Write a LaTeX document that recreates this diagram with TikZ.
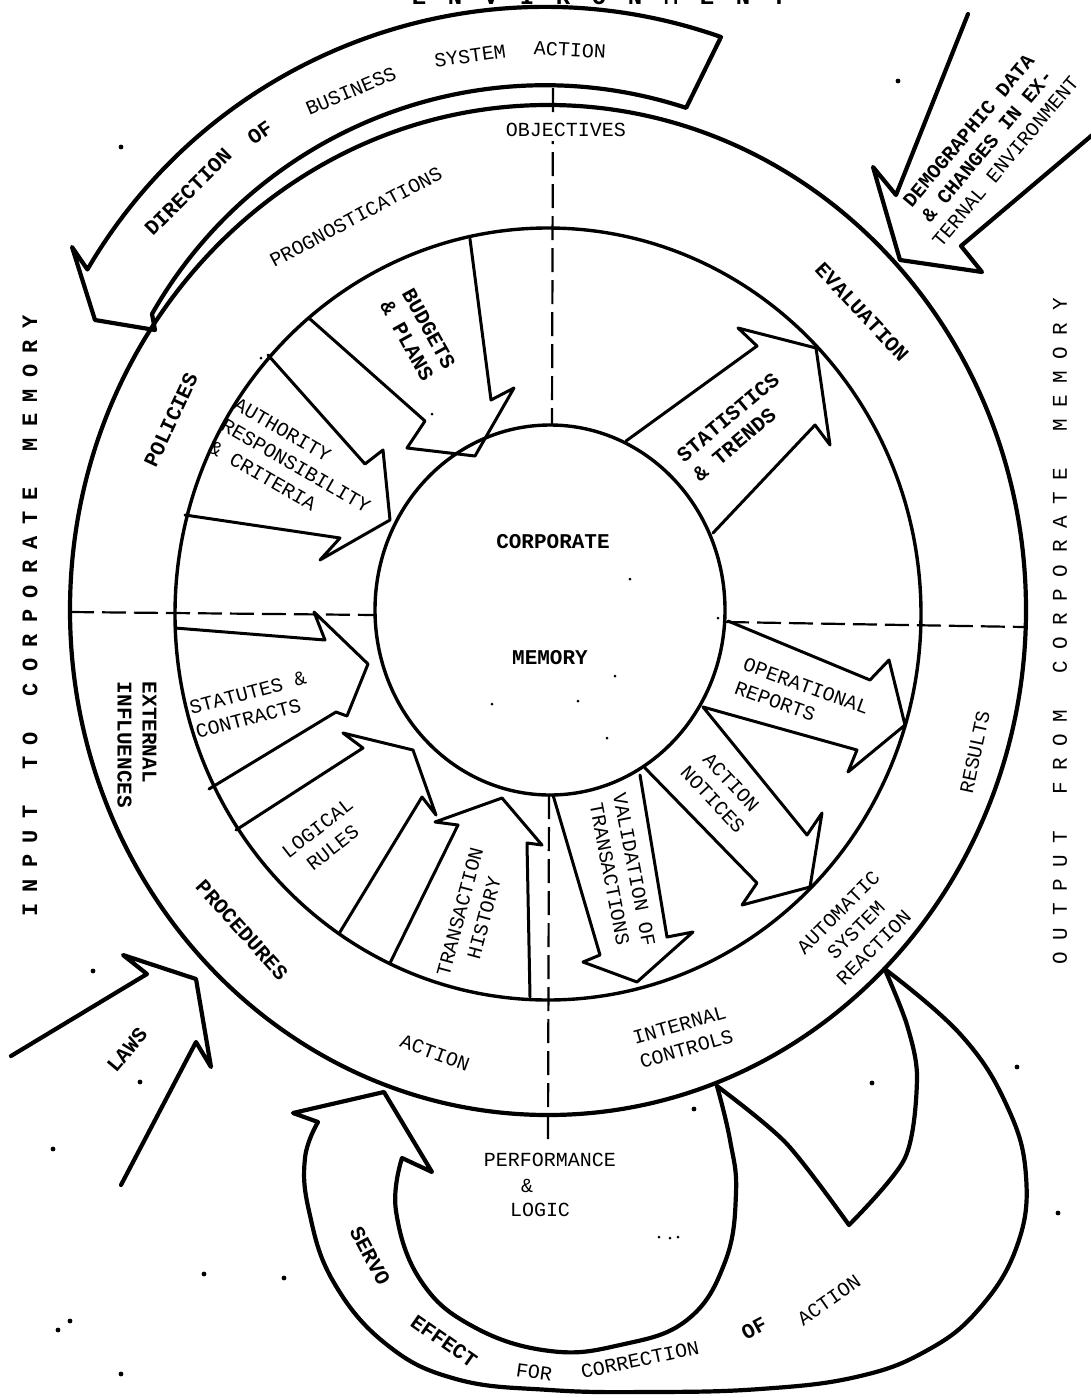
\documentclass[tikz,border=0pt]{standalone}
\usepackage{fontspec}
\setmonofont{Liberation Mono}
\usetikzlibrary{calc}

\tikzset{
  rim/.style={line width=1.7pt},
  outerrim/.style={line width=2.1pt},
  wedge/.style={line width=1.5pt, line join=round, line cap=round},
  bigarrow/.style={line width=2.1pt, line join=round, line cap=round},
  divide/.style={line width=1.1pt, dash pattern=on 12pt off 4pt},
  tw/.style={font=\ttfamily\fontsize{10}{12.5}\selectfont, inner sep=0pt, align=center},
  twb/.style={font=\ttfamily\bfseries\fontsize{10.5}{12.5}\selectfont, inner sep=0pt, align=center},
  sidechar/.style={font=\ttfamily\bfseries\fontsize{11}{11}\selectfont, inner sep=0pt, rotate=90},
}

\begin{document}
\begin{tikzpicture}[x=0.5pt, y=-0.5pt]
  \useasboundingbox (0,0) rectangle (1091,1398);
  \clip (0,0) rectangle (1091,1398);

  % three rings
  \coordinate (hub) at (550,610);
  \draw[outerrim] (548,610) ellipse [x radius=478, y radius=505];
  \draw[rim] (548,614) ellipse [x radius=373, y radius=386];
  \draw[rim] (hub) ellipse [x radius=175, y radius=185];

  % quadrant dividers
  \draw[divide] (553,88) -- (552,425);
  \draw[divide] (549,795) -- (548,1142);
  \draw[divide] (70,612) -- (375,615);
  \draw[divide] (725,622) -- (1024,627);

  % direction band on top
  \draw[bigarrow] (721,37) arc[start angle=-70.6, end angle=-149.7, radius=530]
    -- (72,247) -- (95,320) -- (155,330) -- (152,314)
    arc[start angle=-150.4, end angle=-71.8, radius=452] -- cycle;
  \node[twb, rotate=45] (dir1) at (188,192) {DIRECTION};
  \node[twb, rotate=35] (dir2) at (260,133) {OF};
  \node[tw, rotate=23] (dir3) at (351,91) {BUSINESS};
  \node[tw, rotate=8] (dir4) at (470,56) {SYSTEM};
  \node[tw, rotate=-3] (dir5) at (570,50) {ACTION};

  % environment input
  \draw[bigarrow] (968,14) -- (896,195) -- (873,167) -- (900,260) -- (982,272) -- (961,246) -- (1110,120);
  \node[twb, rotate=50, font=\ttfamily\bfseries\fontsize{10}{12}\selectfont] (demo) at (987,146) {DEMOGRAPHIC DATA\\\& CHANGES IN EX-\\{\mdseries TERNAL ENVIRONMENT}};

  % laws input
  \draw[bigarrow] (11,1056) -- (147,974) -- (123,955) -- (196,979) -- (211,1067) -- (196,1042) -- (121,1185);
  \node[twb, rotate=50] (laws) at (127,1050) {LAWS};

  % inward flows
  \draw[wedge] (310,319) -- (425,421) -- (407,448) -- (475,456) -- (514,388) -- (491,400) -- (470,239);
  \draw[wedge] (268,355) -- (365,464) -- (383,450) -- (390,520) -- (320,560) -- (340,538) -- (185,515);
  \draw[wedge] (175,628) -- (325,640) -- (314,612) -- (368,664) -- (347,716) -- (336,712) -- (209,789);
  \draw[wedge] (236,830) -- (363,748) -- (343,733) -- (413,750) -- (436,815) -- (422,797) -- (340,932);
  \draw[wedge] (390,963) -- (458,825) -- (435,822) -- (502,798) -- (542,845) -- (527,843) -- (530,997);
  % outward flows
  \draw[wedge] (553,795) -- (600,955) -- (583,962) -- (637,982) -- (693,932) -- (667,937) -- (640,775);
  \draw[wedge] (645,768) -- (757,883) -- (742,905) -- (810,887) -- (822,813) -- (807,835) -- (703,707);
  \draw[wedge] (728,621) -- (870,680) -- (889,660) -- (905,725) -- (848,772) -- (857,750) -- (703,707);
  \draw[wedge] (626,441) -- (757,346) -- (738,328) -- (816,348) -- (830,445) -- (815,425) -- (713,533);

  % servo loop
  \draw[bigarrow] plot[smooth, tension=0.7] coordinates {(886,970) (961,1035) (1007,1106) (1026,1176) (1017,1246) (979,1309) (926,1351) (856,1377) (760,1389) (650,1392) (550,1390) (456,1379) (386,1344) (333,1281) (309,1211) (305,1158) (318,1122)}
    -- (293,1113) -- (384,1092) -- (432,1172) -- (402,1158)
    -- plot[smooth, tension=0.7] coordinates {(402,1158) (396,1211) (421,1281) (474,1327) (550,1351) (620,1345) (687,1320) (725,1262) (736,1193) (730,1140) (717,1086)};
  \draw[bigarrow] plot[smooth] coordinates {(886,972) (907,1025) (917,1078) (905,1158) (849,1225)}
    -- plot[smooth] coordinates {(849,1225) (786,1143) (717,1086)};
  \node[twb, rotate=-62] (servo1) at (370,1256) {SERVO};
  \node[twb, rotate=-35] (servo2) at (444,1341) {EFFECT};
  \node[tw, rotate=-8] (servo3) at (534,1372) {FOR};
  \node[tw, rotate=12] (servo4) at (640,1360) {CORRECTION};
  \node[twb, rotate=28] (servo5) at (754,1328) {OF};
  \node[tw, rotate=35] (servo6) at (829,1300) {ACTION};

  % outer ring
  \node[tw, fill=white, inner sep=2pt] (objectives) at (566,130) {OBJECTIVES};
  \node[tw, rotate=28] (prog) at (356,217) {PROGNOSTICATIONS};
  \node[twb, rotate=-47] (eval) at (862,312) {EVALUATION};
  \node[twb, rotate=65] (policies) at (171,420) {POLICIES};
  \node[twb, rotate=-90, align=left] (extern) at (137,745) {EXTERNAL\\INFLUENCES};
  \node[twb, rotate=-48] (proc) at (242,930) {PROCEDURES};
  \node[tw, rotate=-20] (action) at (435,1053) {ACTION};
  \node[tw, rotate=16] (internal) at (683,1037) {INTERNAL\\CONTROLS};
  \node[tw, rotate=45] (auto) at (856,930) {AUTOMATIC\\SYSTEM\\REACTION};
  \node[tw, rotate=78] (results) at (975,752) {RESULTS};

  % middle ring
  \node[twb, rotate=-61] (budgets) at (418,335) {BUDGETS\\\& PLANS};
  \node[tw, rotate=-30, align=left] (authority) at (296,466) {AUTHORITY\\RESPONSIBILITY\\\& CRITERIA};
  \node[tw, rotate=15, align=left] (statutes) at (251,705) {STATUTES \&\\CONTRACTS};
  \node[tw, rotate=38] (logical) at (325,838) {LOGICAL\\RULES};
  \node[tw, rotate=75] (history) at (472,915) {TRANSACTION\\HISTORY};
  \node[tw, rotate=-79] (validation) at (622,872) {VALIDATION OF\\TRANSACTIONS};
  \node[tw, rotate=-47] (notices) at (722,791) {ACTION\\NOTICES};
  \node[tw, rotate=-20, align=left] (reports) at (802,698) {OPERATIONAL\\REPORTS};
  \node[twb, rotate=40, align=left] (stats) at (736,427) {STATISTICS\\\& TRENDS};

  % hub
  \node[twb] (corp) at (553,542) {CORPORATE};
  \node[twb] (mem) at (550,658) {MEMORY};

  % below the rings
  \node[tw] (perf) at (550,1160) {PERFORMANCE};
  \node[tw] (amp) at (527,1186) {\&};
  \node[tw] (logic) at (540,1210) {LOGIC};

  % side captions
  \foreach \ch [count=\i] in {I,N,P,U,T,{},T,O,{},C,O,R,P,O,R,A,T,E,{},M,E,M,O,R,Y}
    \node[sidechar] at (30,{910-(\i-1)*24.5}) {\ch};
  \foreach \ch [count=\i] in {O,U,T,P,U,T,{},F,R,O,M,{},C,O,R,P,O,R,A,T,E,{},M,E,M,O,R,Y}
    \node[sidechar, font=\ttfamily\fontsize{10.5}{10.5}\selectfont] at (1060,{958-(\i-1)*24.2}) {\ch};
  \foreach \ch [count=\i] in {E,N,V,I,R,O,N,M,E,N,T}
    \node[twb, anchor=base, font=\ttfamily\bfseries\fontsize{12}{12}\selectfont] at ({419+(\i-1)*36},4) {\ch};

  % specks of the scan
  \foreach \p in {(121,147),(898,81),(53,1149),(93,971),(140,1082),(121,1374),(284,1278),(204,1274),(70,1321),(58,1330),(1017,1067),(872,1083),(1058,1213),(694,1109)}
    \fill \p circle[radius=2.4];
  \foreach \p in {(659,1237),(670,1238),(678,1237),(630,579),(718,618),(615,676),(607,738),(578,701),(492,704),(261,358),(432,414)}
    \fill \p circle[radius=1.5];
\end{tikzpicture}
\end{document}
